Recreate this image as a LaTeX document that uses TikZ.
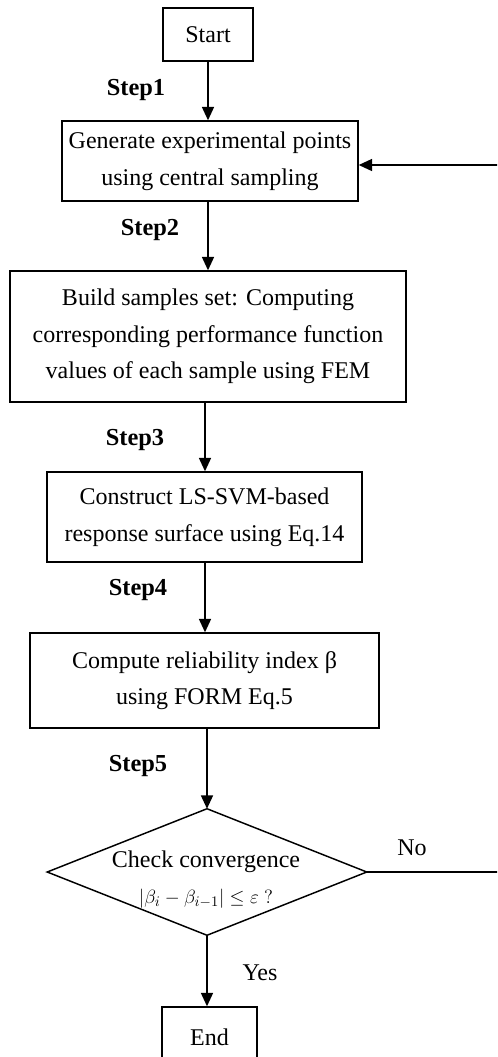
\documentclass[tikz,border=0pt]{standalone}
\usepackage{fontspec}
\setmainfont{Liberation Serif}
\usetikzlibrary{arrows.meta}
\begin{document}
\begin{tikzpicture}[x=0.75pt,y=-0.75pt,
  flow/.style={line width=1.1pt,-{Triangle[length=10pt,width=9pt]}},
  plain/.style={line width=1.1pt},
  box/.style={draw,line width=1.1pt,inner sep=0pt,align=center,font=\fontsize{18}{27.5}\selectfont},
  steplbl/.style={font=\fontsize{18.3}{20}\selectfont\bfseries,inner sep=0pt},
  lbl/.style={font=\fontsize{18}{20}\selectfont,inner sep=0pt}]
\useasboundingbox (0,0) rectangle (497,1057);
\clip (0,0) rectangle (497,1057);
\node[box,minimum width=67.5pt,minimum height=39.75pt] (start) at (208,34.5) {Start};
\node[box,minimum width=222pt,minimum height=60pt] (b1) at (210,161) {Generate experimental points\\using central sampling};
\node[box,minimum width=297pt,minimum height=98.25pt] (b2) at (208,336.5) {Build samples set: Computing\\corresponding performance function\\values of each sample using FEM};
\node[box,minimum width=236.25pt,minimum height=67.5pt] (b3) at (204.5,517) {Construct LS-SVM-based\\response surface using Eq.14};
\node[box,minimum width=261.75pt,minimum height=71.25pt] (b4) at (204.5,680.5) {Compute reliability index β\\using FORM Eq.5};
\node[inner sep=0pt,minimum width=239.25pt,minimum height=94.5pt] (dec) at (207,872) {};
\draw[plain] (dec.north) -- (dec.east) -- (dec.south) -- (dec.west) -- cycle;
\node[inner sep=0pt,align=center,font=\fontsize{18}{27}\selectfont] (dectext) at (206,880) {Check convergence\\{\fontsize{15}{16}\selectfont$\left|\beta_{i}-\beta_{i-1}\right|\leq\varepsilon\;?$}};
\node[box,minimum width=71.25pt,minimum height=45pt] (end) at (209.5,1037) {End};
\node[steplbl] (s1) at (136,90) {Step1};
\node[steplbl] (s2) at (150,230) {Step2};
\node[steplbl] (s3) at (135,440) {Step3};
\node[steplbl] (s4) at (138,590) {Step4};
\node[steplbl] (s5) at (138,766) {Step5};
\node[lbl] (no) at (412,848) {No};
\node[lbl] (yes) at (260,973) {Yes};
\draw[flow] (start.south) -- (start.south |- b1.north);
\draw[flow] (b1.south -| 208,0) -- (208,0 |- b2.north);
\draw[flow] (b2.south -| 205,0) -- (205,0 |- b3.north);
\draw[flow] (b3.south -| 205,0) -- (205,0 |- b4.north);
\draw[flow] (b4.south -| dec.north) -- (dec.north);
\draw[flow] (dec.south) -- (dec.south |- end.north);
\coordinate (loop) at (515,872);
\draw[flow] (dec.east) -- (loop) |- ([yshift=-3pt]b1.east);
\end{tikzpicture}
\end{document}
